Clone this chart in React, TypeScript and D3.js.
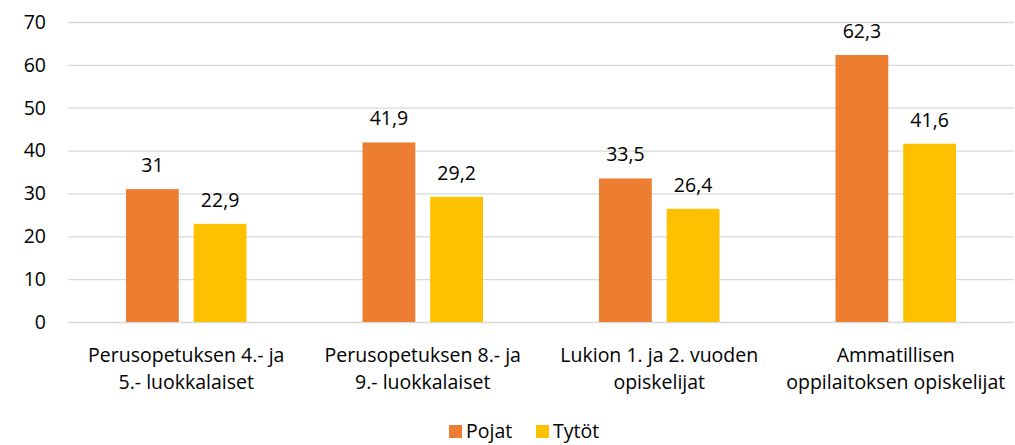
import React from "react";
import * as d3 from "d3";

const categories = [
  ["Perusopetuksen 4.- ja", "5.- luokkalaiset"],
  ["Perusopetuksen 8.- ja", "9.- luokkalaiset"],
  ["Lukion 1. ja 2. vuoden", "opiskelijat"],
  ["Ammatillisen", "oppilaitoksen opiskelijat"],
];
const seriesNames = ["Pojat", "Tytöt"];
const pojat = [31, 41.9, 33.5, 62.3];
const tytot = [22.9, 29.2, 26.4, 41.6];
const yTicks = [0, 10, 20, 30, 40, 50, 60, 70];
const colors = ["#ED7D31", "#FFC000"];

const W = 1015;
const H = 445;
const margin = { top: 22, right: 1, bottom: 123, left: 68 };
const font = "'Open Sans', 'Noto Sans', sans-serif";
const fs = 19.5;

export default function App() {
  const x = d3
    .scaleBand<number>()
    .domain(d3.range(categories.length))
    .range([margin.left, W - margin.right])
    .paddingInner(0)
    .paddingOuter(0);
  const inner = d3
    .scaleBand<number>()
    .domain([0, 1])
    .range([58, x.bandwidth() - 58])
    .paddingInner(0.22);
  const y = d3.scaleLinear().domain([0, 70]).range([H - margin.bottom, margin.top]);
  const fmt = (v: number) => String(v).replace(".", ",");
  const series = [pojat, tytot];

  return (
    <svg
      width={W}
      height={H}
      style={{ position: "absolute", left: 0, top: 0, fontFamily: font }}
    >
      {yTicks.map((t) => (
        <g key={t}>
          <line
            x1={margin.left}
            x2={W - margin.right}
            y1={y(t) + 0.5}
            y2={y(t) + 0.5}
            stroke="#D9D9D9"
            strokeWidth={1.3}
          />
          <text
            x={46}
            y={y(t)}
            dy="0.35em"
            textAnchor="end"
            fontSize={fs}
            fill="#000"
          >
            {t}
          </text>
        </g>
      ))}
      {categories.map((c, i) => (
        <g key={i} transform={`translate(${x(i)},0)`}>
          {series.map((s, j) => (
            <g key={j}>
              <rect
                x={inner(j)}
                y={y(s[i])}
                width={inner.bandwidth()}
                height={y(0) - y(s[i])}
                fill={colors[j]}
              />
              <text
                x={(inner(j) as number) + inner.bandwidth() / 2}
                y={y(s[i]) - 17}
                textAnchor="middle"
                fontSize={fs}
                fill="#000"
              >
                {fmt(s[i])}
              </text>
            </g>
          ))}
          {c.map((line, k) => (
            <text
              key={k}
              x={x.bandwidth() / 2}
              y={362 + k * 27}
              textAnchor="middle"
              fontSize={fs}
              fill="#000"
            >
              {line}
            </text>
          ))}
        </g>
      ))}
      <g>
        {seriesNames.map((n, j) => {
          const lx = 449 + j * 87;
          return (
            <g key={n}>
              <rect x={lx} y={425} width={13} height={13} fill={colors[j]} />
              <text x={lx + 17} y={438} fontSize={fs} fill="#000">
                {n}
              </text>
            </g>
          );
        })}
      </g>
    </svg>
  );
}
